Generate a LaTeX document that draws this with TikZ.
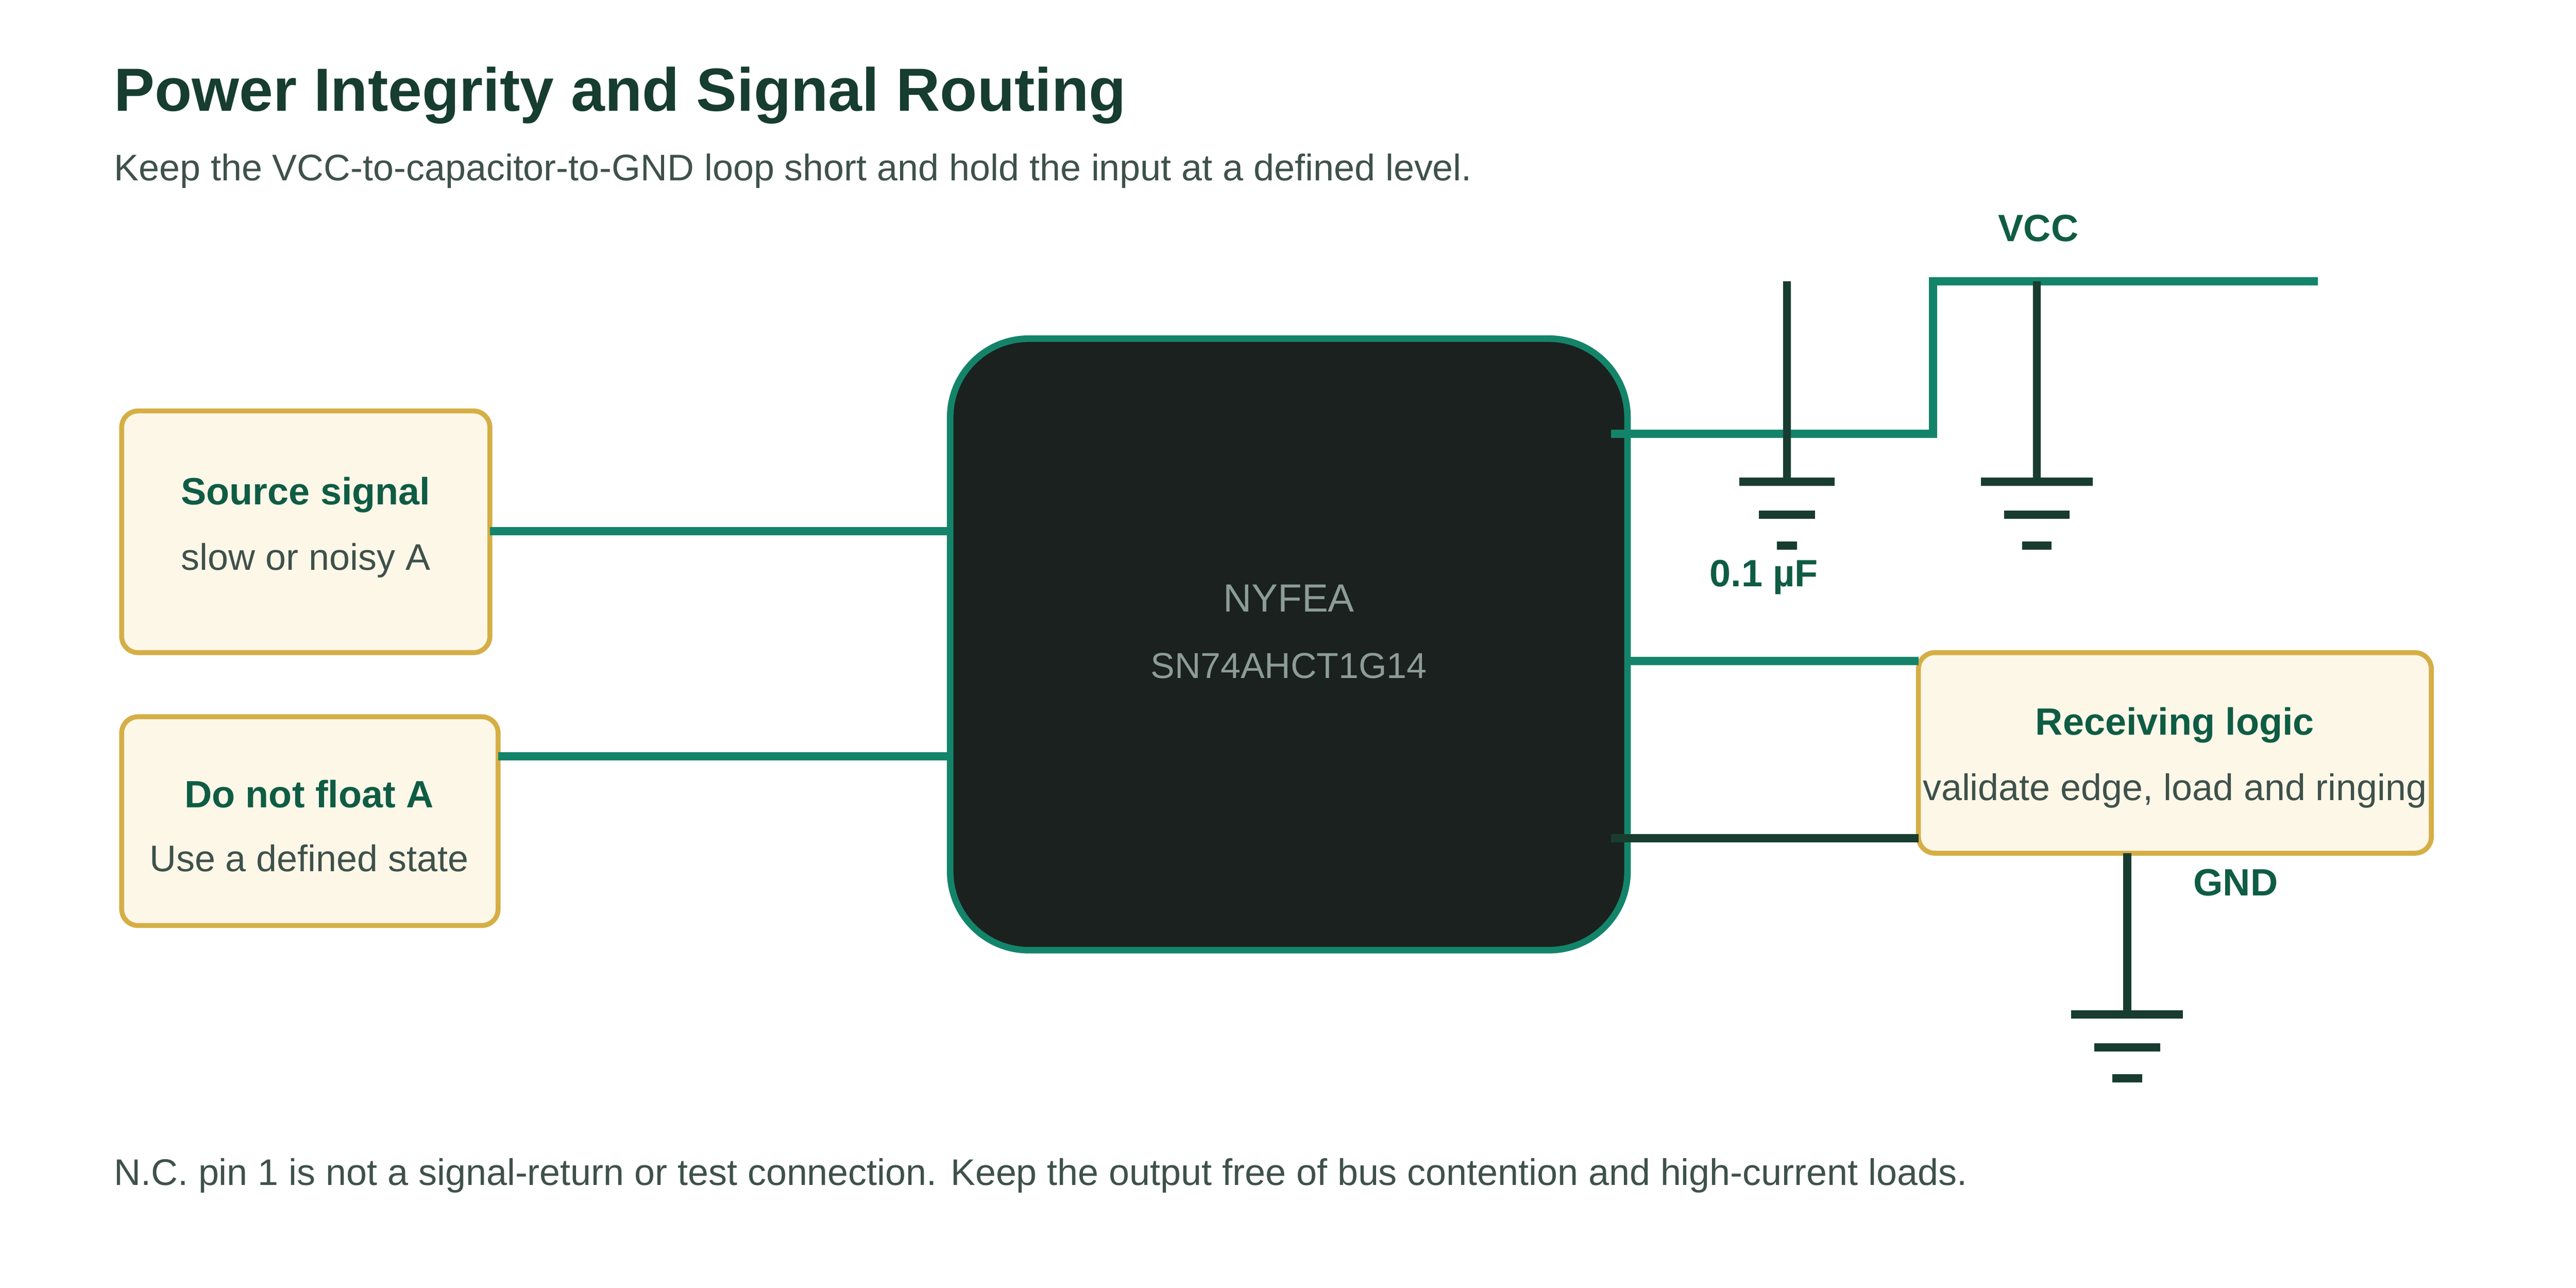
\documentclass[tikz,border=0pt]{standalone}
\usepackage{fontspec}
\setmainfont{Liberation Sans}
\usetikzlibrary{calc}
\definecolor{inkgreen}{HTML}{163D2F}
\definecolor{headgreen}{HTML}{0F5C44}
\definecolor{textgray}{HTML}{3E514A}
\definecolor{trace}{HTML}{13846A}
\definecolor{darktrace}{HTML}{183C30}
\definecolor{chipfill}{HTML}{1B211E}
\definecolor{chiptext}{HTML}{8C9C96}
\definecolor{notefill}{HTML}{FDF7E8}
\definecolor{noteedge}{HTML}{D5AE45}
\tikzset{
  note/.style={draw=noteedge, fill=notefill, line width=1.5pt, rounded corners=5pt},
  wire/.style={trace, line width=2.5pt},
  return/.style={darktrace, line width=2.5pt},
  head/.style={font=\bfseries\fontsize{11.6}{13}\selectfont, text=headgreen},
  body/.style={font=\fontsize{11.3}{13}\selectfont, text=textgray},
}
% ground symbol: x, y, half widths
\newcommand{\gndsym}[5]{%
  \draw[return] (#1-#3,#2) -- (#1+#3,#2);
  \draw[return] (#1-#4,#2+20) -- (#1+#4,#2+20);
  \draw[return] (#1-#5,#2+39) -- (#1+#5,#2+39);}
\begin{document}
\begin{tikzpicture}[x=0.5bp, y=-0.5bp]
        \useasboundingbox (0,0) rectangle (1567,783.5);

        \node[anchor=west, inner sep=0pt, font=\bfseries\fontsize{18.6}{22}\selectfont, text=inkgreen] (title) at (69,58) {Power Integrity and Signal Routing};
        \node[anchor=west, inner sep=0pt, body] (sub) at (69,104) {Keep the VCC-to-capacitor-to-GND loop short and hold the input at a defined level.};
        \node[anchor=west, inner sep=0pt, body] (foot) at (69,715) {N.C. pin 1 is not a signal-return or test connection. Keep the output free of bus contention and high-current loads.};

        % chip
        \draw[draw=trace, fill=chipfill, line width=2pt, rounded corners=24pt] (578,206) rectangle (990,578);
        \coordinate (chip) at (784,392);
        \node[font=\fontsize{12}{14}\selectfont, text=chiptext] (name) at (784,364) {NYFEA};
        \node[font=\fontsize{11}{13}\selectfont, text=chiptext] (part) at (784,405) {SN74AHCT1G14};

        % notes
        \draw[note] (74,250) rectangle (298,397);
        \node[head] (src) at (186,301) {Source signal};
        \node[body] at (186,341) {slow or noisy A};
        \draw[note] (74,436) rectangle (303,563);
        \node[head] (float) at (188,483) {Do not float A};
        \node[body] at (188,522) {Use a defined state};
        \draw[note] (1167,397) rectangle (1479,519);
        \node[head] (recv) at (1323,441) {Receiving logic};
        \node[body] at (1323,481) {validate edge, load and ringing};

        % traces
        \coordinate (srcR) at (298,323);
        \coordinate (floatR) at (303,460);
        \coordinate (recvL) at (1167,402);
        \coordinate (recvG) at (1167,510);
        \draw[wire] (srcR) -- (578,323);
        \draw[wire] (floatR) -- (578,460);
        \draw[wire] (990,402) -- (recvL);
        \draw[wire] (980,264) -- (1176,264) -- (1176,171) -- (1410,171);
        \draw[return] (980,510) -- (recvG);

        % decoupling and grounds
        \draw[return] (1087,171) -- (1087,293);
        \gndsym{1087}{293}{29}{17}{6}
        \draw[return] (1239,171) -- (1239,293);
        \gndsym{1239}{293}{34}{20}{9}
        \draw[return] (1294,519) -- (1294,617);
        \gndsym{1294}{617}{34}{20}{9}

        \node[head] (vcc) at (1240,139) {VCC};
        \node[head] (cap) at (1073,351) {0.1 µF};
        \node[head] (gnd) at (1360,537) {GND};
    \end{tikzpicture}
\end{document}
